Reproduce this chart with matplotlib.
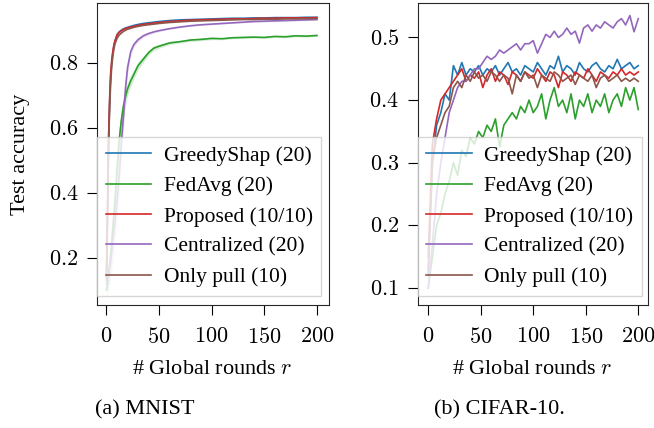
import matplotlib
matplotlib.use("Agg")
import matplotlib.pyplot as plt
from matplotlib.ticker import FuncFormatter

plt.rcParams['font.family'] = ['Liberation Serif', 'DejaVu Serif']
plt.rcParams['mathtext.fontset'] = 'cm'
plt.rcParams['font.size'] = 16

labels = ['GreedyShap (20)', 'FedAvg (20)', 'Proposed (10/10)', 'Centralized (20)', 'Only pull (10)']
colors = ['tab:blue', 'tab:green', 'tab:red', 'tab:purple', 'tab:brown']

# MNIST
r_m = [0, 1, 2, 3, 4, 5, 6, 7, 8, 10, 12, 14, 16, 18, 20, 23, 26, 30, 35, 40, 45, 50,
       60, 70, 80, 90, 100, 110, 120, 130, 140, 150, 160, 170, 180, 190, 200]
m_greedy = [0.14, 0.34, 0.56, 0.68, 0.76, 0.80, 0.83, 0.852, 0.866, 0.887, 0.896, 0.901, 0.905, 0.908,
            0.910, 0.913, 0.916, 0.919, 0.922, 0.924, 0.926, 0.928, 0.931, 0.933, 0.934, 0.935, 0.936,
            0.937, 0.938, 0.938, 0.939, 0.939, 0.940, 0.940, 0.940, 0.941, 0.941]
m_fedavg = [0.10, 0.12, 0.15, 0.18, 0.21, 0.25, 0.29, 0.33, 0.37, 0.47, 0.56, 0.62, 0.665, 0.695,
            0.72, 0.745, 0.765, 0.792, 0.812, 0.832, 0.846, 0.852, 0.862, 0.866, 0.871, 0.873, 0.876,
            0.875, 0.878, 0.879, 0.880, 0.879, 0.882, 0.881, 0.884, 0.883, 0.885]
m_proposed = [0.15, 0.35, 0.57, 0.69, 0.77, 0.81, 0.835, 0.855, 0.868, 0.886, 0.894, 0.899, 0.903, 0.906,
              0.908, 0.911, 0.913, 0.916, 0.919, 0.921, 0.923, 0.925, 0.928, 0.930, 0.932, 0.933, 0.934,
              0.935, 0.936, 0.936, 0.937, 0.938, 0.938, 0.939, 0.939, 0.939, 0.940]
m_central = [0.12, 0.13, 0.15, 0.17, 0.19, 0.22, 0.25, 0.28, 0.31, 0.37, 0.45, 0.55, 0.63, 0.72,
             0.785, 0.835, 0.857, 0.872, 0.884, 0.891, 0.896, 0.900, 0.906, 0.911, 0.915, 0.918, 0.920,
             0.922, 0.924, 0.926, 0.928, 0.929, 0.930, 0.931, 0.932, 0.933, 0.934]
m_pull = [0.13, 0.32, 0.54, 0.66, 0.74, 0.79, 0.82, 0.842, 0.858, 0.876, 0.886, 0.892, 0.897, 0.901,
          0.904, 0.907, 0.910, 0.913, 0.916, 0.918, 0.920, 0.922, 0.925, 0.927, 0.929, 0.930, 0.931,
          0.932, 0.933, 0.934, 0.934, 0.935, 0.935, 0.936, 0.936, 0.937, 0.937]
m_fedavg_std = [0.02, 0.03, 0.04, 0.05, 0.05, 0.05, 0.05, 0.05, 0.05, 0.05, 0.04, 0.035, 0.03, 0.025,
                0.02, 0.018, 0.015, 0.012, 0.01, 0.008, 0.007, 0.006, 0.005, 0.004, 0.004, 0.004, 0.004,
                0.003, 0.003, 0.003, 0.003, 0.003, 0.003, 0.003, 0.003, 0.003, 0.003]
m_central_std = [0.02, 0.03, 0.04, 0.05, 0.05, 0.06, 0.06, 0.06, 0.06, 0.06, 0.06, 0.05, 0.04, 0.03,
                 0.02, 0.012, 0.008, 0.006, 0.005, 0.004, 0.003, 0.003, 0.002, 0.002, 0.002, 0.002, 0.002,
                 0.002, 0.002, 0.002, 0.002, 0.002, 0.002, 0.002, 0.002, 0.002, 0.002]

# CIFAR-10
r_c = list(range(0, 201, 4))
c_greedy = [0.12, 0.30, 0.36, 0.38, 0.41, 0.40, 0.455, 0.44, 0.46, 0.44, 0.45, 0.445, 0.455, 0.44, 0.45,
            0.445, 0.455, 0.44, 0.45, 0.46, 0.445, 0.45, 0.44, 0.455, 0.45, 0.445, 0.46, 0.45, 0.44, 0.455,
            0.45, 0.47, 0.445, 0.455, 0.45, 0.44, 0.46, 0.45, 0.445, 0.455, 0.46, 0.45, 0.445, 0.455, 0.45,
            0.465, 0.45, 0.455, 0.46, 0.45, 0.455]
c_fedavg = [0.10, 0.15, 0.20, 0.22, 0.25, 0.27, 0.30, 0.28, 0.32, 0.31, 0.34, 0.33, 0.35, 0.34, 0.36,
            0.35, 0.37, 0.325, 0.36, 0.37, 0.38, 0.37, 0.39, 0.38, 0.40, 0.38, 0.39, 0.41, 0.37, 0.40,
            0.42, 0.39, 0.40, 0.38, 0.41, 0.37, 0.40, 0.39, 0.41, 0.38, 0.40, 0.39, 0.41, 0.38, 0.40,
            0.41, 0.39, 0.42, 0.40, 0.42, 0.385]
c_proposed = [0.15, 0.33, 0.37, 0.40, 0.41, 0.42, 0.43, 0.44, 0.45, 0.43, 0.44, 0.435, 0.445, 0.42, 0.44,
              0.45, 0.43, 0.445, 0.44, 0.425, 0.445, 0.44, 0.43, 0.445, 0.44, 0.435, 0.45, 0.44, 0.43, 0.445,
              0.44, 0.42, 0.445, 0.44, 0.43, 0.445, 0.44, 0.435, 0.45, 0.44, 0.43, 0.445, 0.44, 0.435, 0.445,
              0.44, 0.45, 0.44, 0.445, 0.44, 0.445]
c_central = [0.10, 0.17, 0.25, 0.30, 0.34, 0.38, 0.40, 0.42, 0.43, 0.43, 0.44, 0.45, 0.45, 0.46, 0.47,
             0.465, 0.47, 0.48, 0.475, 0.48, 0.485, 0.49, 0.48, 0.49, 0.49, 0.495, 0.475, 0.49, 0.505, 0.50,
             0.51, 0.50, 0.505, 0.515, 0.505, 0.51, 0.491, 0.515, 0.52, 0.51, 0.52, 0.515, 0.525, 0.52, 0.515,
             0.525, 0.53, 0.52, 0.535, 0.509, 0.53]
c_pull = [0.13, 0.30, 0.34, 0.36, 0.38, 0.39, 0.42, 0.43, 0.42, 0.44, 0.43, 0.445, 0.435, 0.44, 0.43,
          0.445, 0.44, 0.43, 0.44, 0.435, 0.41, 0.44, 0.43, 0.445, 0.435, 0.44, 0.42, 0.44, 0.435, 0.43,
          0.445, 0.44, 0.43, 0.435, 0.44, 0.425, 0.44, 0.435, 0.43, 0.44, 0.42, 0.435, 0.44, 0.43, 0.435,
          0.44, 0.43, 0.435, 0.43, 0.435, 0.43]

W, H = 654, 428
fig = plt.figure(figsize=(W / 100, H / 100), dpi=100)
ax1 = fig.add_axes([97 / W, 1 - 305 / H, 231.5 / W, 302 / H])
ax2 = fig.add_axes([417.7 / W, 1 - 305 / H, 230 / W, 302 / H])

m_series = [m_greedy, m_fedavg, m_proposed, m_central, m_pull]
c_series = [c_greedy, c_fedavg, c_proposed, c_central, c_pull]

for y, col, lab in zip(m_series, colors, labels):
    ax1.plot(r_m, y, color=col, lw=1.2, label=lab)
for y, s, col in [(m_fedavg, m_fedavg_std, colors[1]), (m_central, m_central_std, colors[3])]:
    ax1.fill_between(r_m, [a - b for a, b in zip(y, s)], [a + b for a, b in zip(y, s)],
                     color=col, alpha=0.2, lw=0)
for y, col, lab in zip(c_series, colors, labels):
    ax2.plot(r_c, y, color=col, lw=1.2, label=lab)

ax1.set_xlim(-9, 211)
ax1.set_ylim(0.055, 0.985)
ax1.set_yticks([0.2, 0.4, 0.6, 0.8])
ax2.set_xlim(-10, 209)
ax2.set_ylim(0.073, 0.555)
ax2.set_yticks([0.1, 0.2, 0.3, 0.4, 0.5])

fmt = FuncFormatter(lambda v, p: f'${v:g}$')
for ax in (ax1, ax2):
    ax.set_xticks([0, 50, 100, 150, 200])
    ax.xaxis.set_major_formatter(fmt)
    ax.yaxis.set_major_formatter(fmt)
    ax.tick_params(direction='out', length=7.5, width=0.8, pad=6, labelsize=16)
    ax.tick_params(axis='x', pad=9)
    ax.set_xlabel('# Global rounds $r$', fontsize=16, labelpad=8.5)
    for sp in ax.spines.values():
        sp.set_linewidth(0.8)
        sp.set_color('0.15')
    leg = ax.legend(loc='lower left', bbox_to_anchor=(0.0, 0.03), borderaxespad=0,
                    fontsize=15.5, handlelength=2.1, fancybox=False, framealpha=0.8,
                    labelspacing=0.48, borderpad=0.4, handletextpad=0.6)
    leg.get_frame().set_edgecolor('0.8')

ax1.set_ylabel('Test accuracy', fontsize=16, labelpad=13)

fig.text(145 / W, 1 - 410 / H, '(a) MNIST', ha='center', va='center', fontsize=16)
fig.text(499 / W, 1 - 410 / H, '(b) CIFAR-10.', ha='center', va='center', fontsize=16)

fig.savefig('out.png', dpi=100)
